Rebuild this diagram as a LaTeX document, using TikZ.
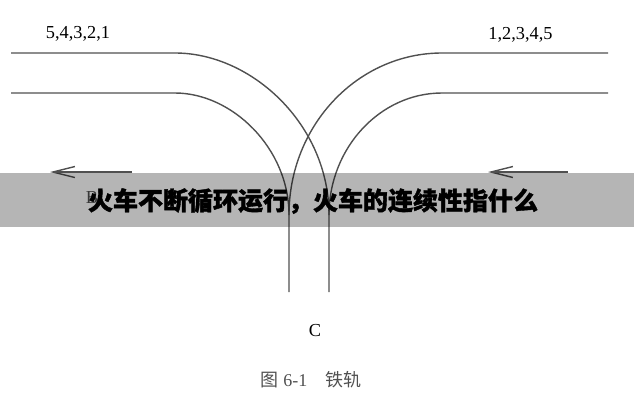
\documentclass[tikz,border=0pt]{standalone}
\usepackage{fontspec}
\setmainfont{Liberation Serif}
\newfontfamily\cjk{Noto Sans CJK SC}
\usetikzlibrary{arrows.meta}
\pgfdeclarelayer{bg}
\pgfsetlayers{bg,main}
\definecolor{railgray}{HTML}{505050}
\definecolor{capgray}{HTML}{505050}
\tikzset{
    every node/.style={inner sep=0mm, text=black},
    rail/.style={draw=railgray, line width=1.4pt},
    arrowline/.style={draw=railgray, line width=1.4pt, -{Straight Barb[length=22pt,width=11pt]}},
    numlabel/.style={font=\fontsize{18.3}{20}\selectfont}
}
\begin{document}
\begin{tikzpicture}[x=1pt,y=-1pt]
        \useasboundingbox (0,0) rectangle (634,400);
        \coordinate (l1) at (11,53);
        \coordinate (l2) at (175,53);
        \coordinate (l3) at (329,215);
        \coordinate (l4) at (329,292);
        \coordinate (m1) at (11,93);
        \coordinate (m2) at (175,93);
        \coordinate (m3) at (289,215);
        \coordinate (m4) at (289,292);
        \coordinate (r1) at (608,53);
        \coordinate (r2) at (442,53);
        \coordinate (s1) at (608,93);
        \coordinate (s2) at (442,93);
        \coordinate (a1) at (132,172);
        \coordinate (a2) at (50,172);
        \coordinate (b1) at (568,172);
        \coordinate (b2) at (488,172);
        \begin{pgfonlayer}{bg}
                \draw [rail] (l1) -- (l2) .. controls (252,53) and (329,125) .. (l3) -- (l4);
                \draw [rail] (m1) -- (m2) .. controls (232,93) and (289,148) .. (m3) -- (m4);
                \draw [rail] (r1) -- (r2) .. controls (358,53) and (289,125) .. (m3);
                \draw [rail] (s1) -- (s2) .. controls (380,93) and (329,148) .. (l3);
                \draw [arrowline] (a1) -- (a2);
                \draw [arrowline] (b1) -- (b2);
                \node (b) [numlabel, text=capgray] at (92,198) {B};
        \end{pgfonlayer}
        \node (left) [numlabel] at (78,34) {5,4,3,2,1};
        \node (right) [numlabel] at (520.5,35) {1,2,3,4,5};
        \node (c) [numlabel] at (315,331) {C};
        \node (cap) [font=\fontsize{18}{20}\selectfont, text=capgray] at (311,380) {{\cjk 图} 6-1\hspace{1em}{\cjk 铁轨}};
        \fill [black, opacity=.29] (0,173) rectangle (634,227);
        \node (title) [font=\fontsize{25}{27}\selectfont] at (313,201) {\cjk\bfseries\addfontfeature{FakeBold=1.5}火车不断循环运行，火车的连续性指什么};
\end{tikzpicture}
\end{document}
